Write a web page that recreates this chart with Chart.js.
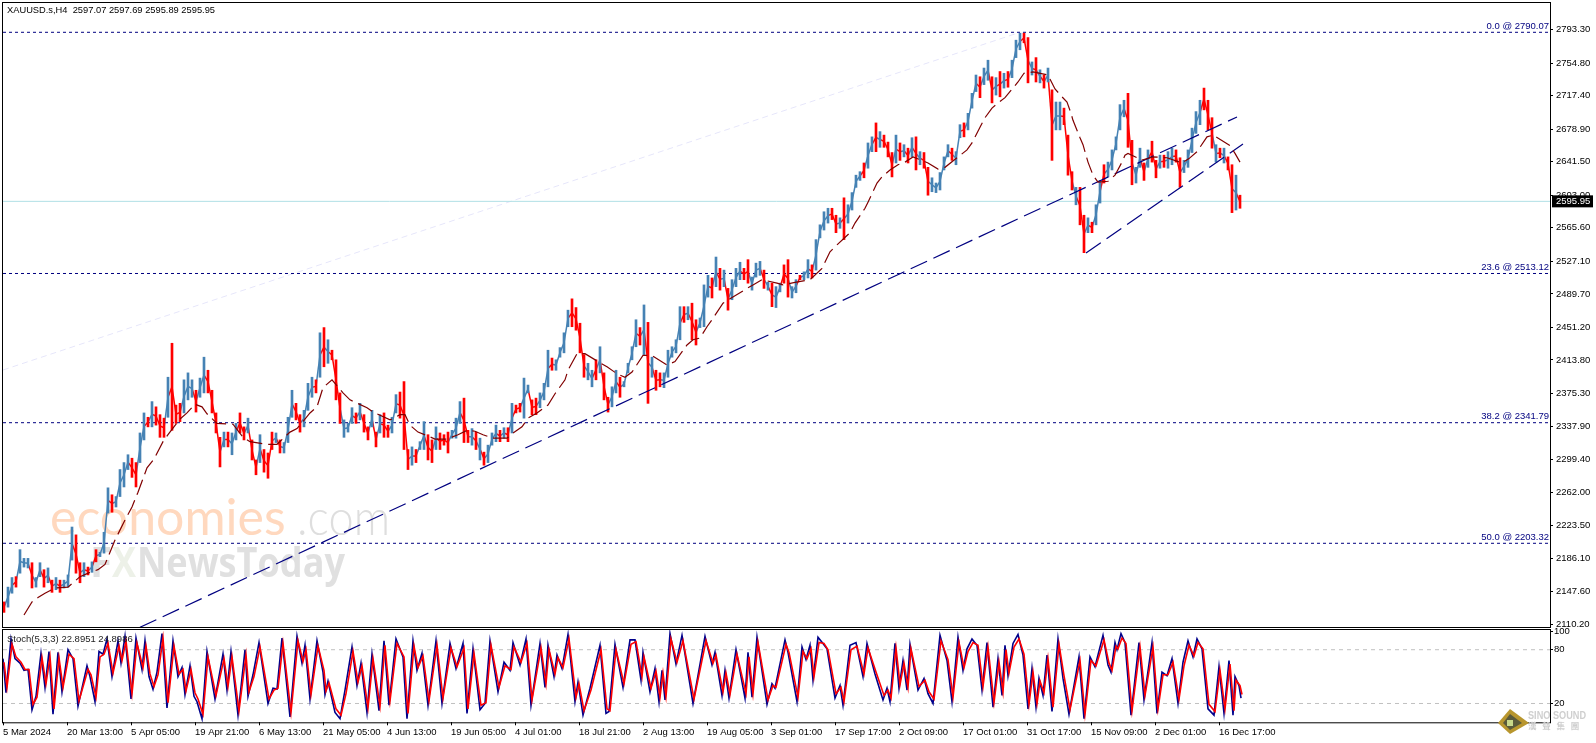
<!DOCTYPE html>
<html>
<head>
<meta charset="utf-8">
<title>XAUUSD.s,H4</title>
<script src="https://cdn.jsdelivr.net/npm/chart.js@4/dist/chart.umd.min.js"></script>
<style>
  html, body { margin: 0; padding: 0; background: #fff; overflow: hidden; }
  #page { position: relative; width: 1596px; height: 743px; }
  canvas { position: absolute; left: 0; }
  #priceChart { top: 0; }
  #stochChart { top: 628px; }
</style>
</head>
<body>
<div id="page">
  <canvas id="priceChart" width="1596" height="629"></canvas>
  <canvas id="stochChart" width="1596" height="115"></canvas>
</div>
<script>
// one candle is kept for every 4 bars on the chart
const highs = [
  2136,2153,2164,2165,2196,2186,2186,2181,2164,2181,2173,2175,2161,2164,2161,2161,2167,2222,2213,2181,
  2181,2176,2182,2196,2193,2216,2267,2259,2257,2288,2296,2305,2301,2296,2330,2353,2348,2366,2360,2351,
  2347,2394,2433,2362,2364,2391,2399,2391,2379,2393,2417,2402,2379,2353,2325,2331,2331,2330,2341,2353,
  2337,2347,2322,2299,2328,2311,2307,2331,2330,2322,2319,2348,2379,2364,2351,2356,2387,2394,2391,2445,
  2451,2437,2425,2414,2376,2345,2341,2359,2353,2364,2351,2337,2356,2331,2351,2353,2339,2348,2374,2377,
  2389,2311,2314,2311,2320,2343,2328,2322,2337,2330,2328,2331,2333,2347,2366,2370,2333,2335,2331,2324,
  2308,2316,2330,2339,2333,2336,2336,2364,2362,2364,2393,2385,2368,2370,2376,2387,2425,2416,2414,2428,
  2445,2471,2484,2474,2456,2420,2410,2402,2414,2429,2399,2371,2383,2402,2394,2389,2410,2429,2460,2451,
  2477,2457,2417,2402,2399,2399,2425,2429,2437,2475,2475,2475,2479,2460,2462,2500,2511,2508,2532,2519,
  2517,2496,2506,2519,2526,2519,2529,2509,2525,2527,2517,2503,2502,2498,2502,2523,2529,2498,2506,2511,
  2515,2529,2523,2552,2569,2584,2588,2588,2580,2577,2600,2592,2606,2626,2630,2640,2663,2670,2686,2676,
  2672,2664,2652,2672,2663,2661,2657,2669,2670,2653,2652,2635,2623,2617,2629,2647,2661,2657,2653,2684,
  2686,2697,2720,2741,2739,2749,2758,2739,2738,2745,2743,2745,2758,2781,2789,2789,2784,2756,2761,2747,
  2741,2749,2724,2710,2710,2703,2672,2630,2612,2612,2580,2577,2572,2592,2620,2638,2641,2655,2670,2707,
  2712,2720,2666,2635,2657,2640,2655,2665,2643,2649,2649,2653,2657,2655,2646,2643,2655,2680,2699,2712,
  2726,2712,2692,2661,2657,2657,2647,2638,2626,2603
];
const lows = [
  2124,2130,2146,2153,2169,2176,2175,2152,2153,2165,2153,2158,2147,2150,2147,2152,2153,2184,2169,2158,
  2165,2167,2170,2182,2188,2192,2238,2239,2245,2257,2268,2288,2279,2268,2296,2322,2337,2337,2339,2325,
  2325,2348,2333,2341,2343,2353,2368,2371,2354,2371,2376,2376,2353,2330,2291,2314,2314,2305,2322,2330,
  2322,2330,2299,2282,2296,2285,2278,2311,2319,2307,2307,2319,2348,2345,2331,2337,2356,2371,2376,2394,
  2406,2410,2414,2368,2341,2325,2331,2341,2341,2345,2331,2322,2337,2314,2330,2325,2325,2330,2353,2347,
  2311,2288,2293,2296,2311,2311,2299,2296,2311,2311,2316,2307,2324,2324,2341,2319,2319,2316,2311,2299,
  2293,2296,2316,2320,2320,2324,2320,2330,2353,2354,2347,2376,2351,2351,2359,2368,2383,2402,2402,2417,
  2422,2452,2452,2448,2422,2394,2391,2383,2391,2399,2368,2354,2360,2376,2371,2383,2399,2414,2429,2431,
  2420,2364,2394,2379,2383,2382,2394,2417,2422,2437,2457,2460,2437,2431,2451,2452,2486,2485,2498,2494,
  2498,2471,2483,2498,2506,2506,2502,2494,2509,2511,2496,2494,2475,2474,2492,2502,2486,2485,2491,2506,
  2506,2508,2508,2517,2554,2563,2571,2575,2560,2565,2552,2571,2586,2612,2620,2623,2634,2653,2653,2658,
  2658,2647,2624,2640,2643,2647,2640,2647,2632,2638,2634,2603,2607,2606,2609,2632,2647,2643,2638,2669,
  2670,2678,2703,2722,2715,2730,2735,2709,2718,2716,2726,2727,2738,2761,2770,2778,2732,2741,2733,2732,
  2726,2733,2643,2678,2678,2684,2626,2609,2592,2569,2537,2560,2560,2569,2594,2617,2624,2632,2655,2678,
  2693,2658,2615,2617,2635,2620,2635,2641,2623,2634,2635,2634,2638,2641,2612,2629,2635,2652,2674,2684,
  2701,2678,2657,2641,2646,2640,2632,2583,2586,2588
];
const bullish = [
  0,1,1,0,1,1,1,0,1,1,0,1,0,1,0,1,1,1,0,0,
  1,0,1,0,1,1,1,0,1,1,1,1,0,0,1,1,0,1,0,0,
  0,1,0,0,0,1,1,1,0,1,1,0,0,0,0,1,0,1,1,0,
  0,1,0,0,1,0,0,0,1,0,1,1,1,0,0,1,1,1,0,1,
  0,1,0,0,0,1,1,1,0,1,0,0,1,0,1,0,0,1,1,0,
  0,0,1,0,1,1,0,0,1,0,0,0,1,1,1,0,0,1,0,1,
  0,1,1,1,0,1,0,1,0,0,1,1,0,0,1,1,1,0,1,1,
  1,1,0,0,0,0,1,1,0,1,0,0,1,1,0,1,1,1,1,0,
  1,0,1,0,0,1,1,1,1,1,0,1,0,0,1,1,1,0,1,0,
  1,0,1,1,1,0,0,1,1,1,0,1,0,1,1,0,0,1,1,0,
  1,1,0,1,1,1,1,0,0,1,0,1,1,1,1,0,1,1,0,1,
  0,0,0,1,0,1,0,1,0,1,0,0,1,1,1,1,1,0,1,1,
  0,1,1,1,0,1,1,0,1,0,1,0,1,1,1,0,0,1,0,1,
  0,1,0,1,1,0,0,0,1,0,0,1,0,1,1,0,1,1,1,1,
  1,0,0,1,1,0,1,0,0,1,0,1,1,0,0,1,1,1,1,1,
  0,0,0,1,0,1,0,0,1,0
];

// moving average, read where it bends
const maBars = [24,32,38,45,55,68,80,90,98,105,115,125,132,138,147,154,163,168,180,187,195,202,207,217,233,243,250,267,277,290,297,310,317,323,332,343,350,367,373,390,400,405,410,418,427,435,447,458,467,475,483,493,507,513,522,528,537,548,555,565,568,577,585,598,607,617,625,632,643,652,667,675,687,693,700,707,712,723,730,747,753,762,777,783,795,810,822,830,837,850,855,865,868,877,882,890,898,905,913,928,938,945,957,967,972,980,985,992,998,1005,1018,1024,1033,1048,1055,1062,1067,1071,1073,1080,1083,1088,1093,1098,1108,1115,1122,1125,1128,1137,1143,1153,1167,1182,1189,1197,1207,1213,1230,1235,1240];
const maValues = [2121,2136,2141,2146,2152,2153,2165,2170,2173,2179,2207,2230,2245,2262,2290,2300,2320,2328,2346,2353,2363,2360,2352,2341,2340,2325,2320,2317,2317,2331,2335,2353,2360,2382,2391,2376,2368,2359,2354,2345,2351,2351,2339,2331,2327,2323,2323,2328,2333,2332,2328,2324,2324,2330,2337,2347,2353,2362,2375,2391,2402,2421,2421,2412,2406,2398,2394,2400,2419,2419,2408,2412,2431,2437,2439,2452,2460,2479,2484,2496,2500,2506,2502,2500,2503,2506,2519,2538,2546,2560,2571,2588,2595,2617,2624,2632,2638,2641,2647,2640,2633,2635,2646,2655,2663,2681,2692,2703,2709,2715,2733,2743,2744.5,2741,2725,2716,2710,2697,2689,2669,2661,2641,2626,2618,2619,2626,2641,2649,2651,2646,2643.5,2647,2646,2640,2645,2653,2670,2672,2660,2651,2641];

const trendMainBars = [140, 1237];
const trendMainPrices = [2106.9, 2692.8];
const trendLowerBars = [1086, 1243];
const trendLowerPrices = [2536.7, 2661.8];
const fibBaseBars = [3, 1020];
const fibBasePrices = [2402.3, 2790.07];

const fibLevels = [2790.07, 2513.12, 2341.79, 2203.32];
const fibLabels = ['0.0 @ 2790.07', '23.6 @ 2513.12', '38.2 @ 2341.79', '50.0 @ 2203.32'];
const lastPrice = 2595.95;

const priceTicks = [2793.30,2754.80,2717.40,2678.90,2641.50,2603.00,2565.60,2527.10,2489.70,2451.20,2413.80,2375.30,2337.90,2299.40,2262.00,2223.50,2186.10,2147.60,2110.20];

const stochBars = [
  3,6,11,15,20,24,28,32,36,41,45,49,53,58,62,68,73,78,87,90,
  95,99,103,107,112,118,121,125,131,136,142,145,149,153,157,162,167,173,178,182,
  185,190,194,197,202,207,215,223,227,231,238,245,248,253,259,268,273,277,282,290,
  297,302,305,310,317,323,325,328,335,340,345,352,357,361,367,372,379,384,389,396,
  403,407,413,417,422,428,436,442,450,456,463,467,473,480,485,490,498,504,510,513,
  520,526,531,540,545,548,554,557,562,568,575,578,583,590,600,606,609,615,623,630,
  635,641,643,650,655,659,662,665,670,676,682,693,705,712,715,722,725,729,736,745,
  748,752,757,767,772,775,785,788,797,802,806,810,813,818,823,827,835,840,843,850,
  856,863,867,875,883,887,890,895,899,903,907,910,918,924,928,933,940,947,952,958,
  963,967,972,977,982,987,993,998,1002,1005,1008,1013,1018,1023,1028,1032,1036,1039,1043,1047,
  1052,1058,1063,1069,1079,1084,1090,1095,1103,1108,1111,1115,1117,1121,1125,1131,1139,1144,1152,1157,
  1162,1167,1172,1178,1183,1188,1193,1197,1202,1208,1214,1219,1224,1229,1233,1235,1239,1241
];
const stochMain = [
  70,32,92,70,65,57,58,13,28,76,38,78,8,77,33,80,70,17,62,50,
  22,78,75,92,50,90,65,95,25,93,58,90,50,36,55,98,15,90,50,60,
  30,62,28,22,3,78,25,75,35,78,7,80,28,52,88,20,37,36,93,5,
  95,65,85,25,90,55,30,45,10,3,35,83,40,65,10,75,12,90,18,92,
  72,3,90,57,76,18,90,20,87,59,87,9,81,13,20,90,33,66,57,88,
  63,92,18,87,38,85,50,74,59,97,22,44,7,37,85,9,11,86,38,91,
  91,46,77,33,59,22,57,24,98,64,96,20,95,63,77,29,57,26,80,26,
  77,27,94,19,42,37,91,77,22,83,69,85,46,94,87,81,26,40,18,85,
  88,50,87,53,24,37,22,87,37,68,35,86,35,48,31,20,96,68,22,94,
  57,81,92,85,35,88,16,70,29,85,51,87,97,74,14,59,16,48,29,74,
  11,92,48,8,72,3,72,61,96,63,55,88,80,98,88,7,88,24,88,9,
  55,51,70,20,66,90,72,92,81,14,7,61,9,68,7,50,40,26
];
const stochSignal = [
  66,38,86,72,66,58,58,19,27,71,42,72,14,71,38,75,70,23,58,52,
  27,72,75,87,54,84,68,90,31,87,60,84,53,39,52,93,21,84,53,58,
  34,58,32,25,8,72,29,70,39,72,12,74,33,50,83,25,35,37,87,10,
  90,67,80,30,84,57,34,43,14,7,31,78,44,62,15,70,17,85,23,87,
  72,9,84,60,73,23,85,26,82,61,82,14,76,18,21,85,38,62,58,83,
  66,87,24,82,42,80,53,71,60,92,27,42,12,35,80,14,12,80,42,86,
  89,50,72,37,56,27,54,28,92,66,90,25,90,65,74,33,54,30,75,31,
  72,31,88,24,40,38,86,77,27,78,70,81,50,88,87,80,31,38,22,80,
  84,53,82,55,29,35,26,82,41,65,38,81,39,46,33,25,90,69,27,88,
  60,78,88,85,39,83,21,66,33,80,54,83,92,75,19,55,20,45,32,70,
  16,86,51,13,68,8,68,62,91,65,57,84,81,93,87,12,83,29,83,14,
  52,52,66,25,62,85,73,88,81,19,11,57,14,64,12,46,40,30
];
const stochLevels = [80, 20];
const stochTicks = [100, 80, 20];

const timeTicks = [3,67,131,195,259,323,387,451,515,579,643,707,771,835,899,963,1027,1091,1155,1219];
const timeLabels = ['5 Mar 2024','20 Mar 13:00','5 Apr 05:00','19 Apr 21:00','6 May 13:00','21 May 05:00','4 Jun 13:00','19 Jun 05:00','4 Jul 01:00','18 Jul 21:00','2 Aug 13:00','19 Aug 05:00','3 Sep 01:00','17 Sep 17:00','2 Oct 09:00','17 Oct 01:00','31 Oct 17:00','15 Nov 09:00','2 Dec 01:00','16 Dec 17:00'];

const headerText = 'XAUUSD.s,H4  2597.07 2597.69 2595.89 2595.95';
const stochText = 'Stoch(5,3,3) 22.8951 24.8986';

const FONT = '"Liberation Sans", Arial, sans-serif';
const TEXT_PX = 9.5;
const BLUE = '#4682B4';
const RED = '#FF0000';
const NAVY = '#000080';
const FIRST_BAR = 3, LAST_BAR = 1550;

Chart.defaults.font.family = FONT;
Chart.defaults.font.size = TEXT_PX;
Chart.defaults.color = '#000';
Chart.defaults.animation = false;
Chart.defaults.devicePixelRatio = 1;

function lineOf(bars, values, color, extra) {
  return Object.assign({
    type: 'line',
    data: bars.map((b, i) => ({ x: b, y: values[i] })),
    borderColor: color,
    borderWidth: 1,
    pointRadius: 0,
    tension: 0,
    fill: false
  }, extra);
}

function levelLine(value, color, extra) {
  return lineOf([FIRST_BAR, LAST_BAR], [value, value], color, extra);
}

function paneFrame(chart) {
  const { ctx, chartArea: a } = chart;
  ctx.save();
  ctx.strokeStyle = '#000';
  ctx.lineWidth = 1;
  ctx.strokeRect(a.left - 0.5, a.top - 0.5, a.right - a.left + 1, a.bottom - a.top + 1);
  ctx.restore();
}

// watermarks sit under the candles
const watermarkPlugin = {
  id: 'watermark',
  beforeDatasetsDraw(chart) {
    const ctx = chart.ctx;
    ctx.save();
    ctx.textBaseline = 'alphabetic';
    ctx.textAlign = 'left';
    ctx.font = '400 50px Lato, "Open Sans", sans-serif';
    ctx.fillStyle = '#FFD8BE';
    ctx.fillText('economies', 50, 535, 243);
    ctx.font = '300 50px Lato, "Open Sans", sans-serif';
    ctx.fillStyle = '#DEDEDE';
    ctx.fillText('.com', 297, 535, 93);
    ctx.font = 'bold 42px "Open Sans", sans-serif';
    ctx.fillStyle = '#E0E0E0';
    ctx.fillText('F', 90, 577, 22);
    ctx.fillStyle = '#EDF1E8';
    ctx.fillText('X', 112, 577, 24);
    ctx.fillStyle = '#E0E0E0';
    ctx.fillText('NewsToday', 137, 577, 208);
    ctx.restore();
  }
};

const priceOverlay = {
  id: 'priceOverlay',
  afterDraw(chart) {
    const ctx = chart.ctx;
    const y = chart.scales.y;
    paneFrame(chart);
    ctx.save();
    ctx.font = TEXT_PX + 'px ' + FONT;
    ctx.textBaseline = 'middle';
    ctx.fillStyle = '#000';
    ctx.textAlign = 'left';
    ctx.fillText(headerText, 7, 10.5, 208);
    ctx.fillStyle = NAVY;
    ctx.textAlign = 'right';
    fibLevels.forEach((level, i) => {
      ctx.fillText(fibLabels[i], 1549, y.getPixelForValue(level) - 6);
    });
    const tagY = y.getPixelForValue(lastPrice);
    ctx.fillStyle = '#000';
    ctx.fillRect(1552, tagY - 6, 41, 12);
    ctx.fillStyle = '#fff';
    ctx.textAlign = 'left';
    ctx.fillText(lastPrice.toFixed(2), 1556, tagY + 0.5);
    ctx.restore();
  }
};

const stochOverlay = {
  id: 'stochOverlay',
  afterDraw(chart) {
    const ctx = chart.ctx;
    paneFrame(chart);
    ctx.save();
    ctx.font = TEXT_PX + 'px ' + FONT;
    ctx.textBaseline = 'middle';
    ctx.fillStyle = '#222';
    ctx.fillText(stochText, 7, 11);
    // sino sound mark, bottom right
    ctx.translate(0, -628);
    ctx.fillStyle = '#B8962E';
    ctx.beginPath();
    ctx.moveTo(1510, 709); ctx.lineTo(1529, 723); ctx.lineTo(1510, 734); ctx.lineTo(1498, 723);
    ctx.closePath();
    ctx.fill();
    ctx.fillStyle = '#5A5A3A';
    ctx.beginPath();
    ctx.moveTo(1510, 714); ctx.lineTo(1522, 723); ctx.lineTo(1510, 730); ctx.lineTo(1503, 723);
    ctx.closePath();
    ctx.fill();
    ctx.fillStyle = '#C8D88A';
    ctx.fillRect(1507, 720, 6, 6);
    ctx.fillStyle = '#CFCFCF';
    ctx.font = 'bold 11px ' + FONT;
    ctx.fillText('SINO SOUND', 1528, 716, 58);
    ctx.font = 'bold 8.5px "Noto Sans CJK TC", sans-serif';
    ctx.fillText('漢   聲   集   團', 1528, 726, 58);
    ctx.restore();
  }
};

const priceDatasets = [
  lineOf(trendLowerBars, trendLowerPrices, NAVY, { borderWidth: 1.2, borderDash: [18, 7], order: 2 }),
  lineOf(trendMainBars, trendMainPrices, NAVY, { borderWidth: 1.2, borderDash: [18, 7], order: 2 }),
  lineOf(maBars, maValues, '#800000', { borderWidth: 1.2, borderDash: [16, 6], order: 1 }),
  {
    type: 'bar',
    data: highs.map((h, i) => ({ x: 4 + i * 4, y: [lows[i], h] })),
    backgroundColor: bullish.map(b => (b ? BLUE : RED)),
    barThickness: 2,
    order: 3
  },
  // joins neighbouring candles the way the dense bars do in the chart
  lineOf(highs.map((h, i) => 4 + i * 4), highs.map((h, i) => (h + lows[i]) / 2), BLUE, {
    borderWidth: 1.5,
    order: 3.5,
    segment: { borderColor: c => (bullish[c.p1DataIndex] ? BLUE : RED) }
  }),
  lineOf(fibBaseBars, fibBasePrices, '#E6E6FA', { borderDash: [6, 4], order: 6 }),
  levelLine(lastPrice, '#B0E0E6', { order: 5 })
];
fibLevels.forEach(level => {
  priceDatasets.push(levelLine(level, NAVY, { borderDash: [3, 3], order: 4 }));
});

new Chart(document.getElementById('priceChart'), {
  data: { datasets: priceDatasets },
  plugins: [watermarkPlugin, priceOverlay],
  options: {
    responsive: false,
    layout: { padding: { left: 3, top: 3, right: 0, bottom: 2 } },
    plugins: { legend: { display: false }, tooltip: { enabled: false } },
    scales: {
      x: { type: 'linear', display: false, min: FIRST_BAR, max: LAST_BAR, offset: false },
      y: {
        position: 'right',
        min: 2107.2,
        max: 2823.7,
        grid: { drawOnChartArea: false, tickLength: 3, tickColor: '#000' },
        border: { display: false },
        ticks: { padding: 3, autoSkip: false, callback: v => v.toFixed(2) },
        afterBuildTicks: s => { s.ticks = priceTicks.map(v => ({ value: v })); },
        afterFit: s => { s.width = 46; s.paddingTop = 0; s.paddingBottom = 0; }
      }
    }
  }
});

const stochDatasets = [
  lineOf(stochBars.map(b => b + 1), stochSignal, RED, { borderWidth: 1.6, order: 1 }),
  lineOf(stochBars, stochMain, '#00008B', { borderWidth: 1.6, order: 2 })
];
stochLevels.forEach(level => {
  stochDatasets.push(levelLine(level, '#C0C0C0', { borderDash: [4, 4], order: 3 }));
});

new Chart(document.getElementById('stochChart'), {
  data: { datasets: stochDatasets },
  plugins: [stochOverlay],
  options: {
    responsive: false,
    layout: { padding: { left: 3, top: 2, right: 0, bottom: 0 } },
    plugins: { legend: { display: false }, tooltip: { enabled: false } },
    scales: {
      x: {
        type: 'linear',
        min: FIRST_BAR,
        max: LAST_BAR,
        grid: { drawOnChartArea: false, tickLength: 3, tickColor: '#000' },
        border: { display: false },
        ticks: {
          align: 'start',
          padding: 1,
          maxRotation: 0,
          autoSkip: false,
          callback: (v, i) => timeLabels[i]
        },
        afterBuildTicks: s => { s.ticks = timeTicks.map(v => ({ value: v })); },
        afterFit: s => { s.height = 20.7; s.paddingLeft = 0; s.paddingRight = 0; }
      },
      y: {
        position: 'right',
        min: -1,
        max: 102,
        grid: { drawOnChartArea: false, tickLength: 3, tickColor: '#000' },
        border: { display: false },
        ticks: { padding: 1, autoSkip: false },
        afterBuildTicks: s => { s.ticks = stochTicks.map(v => ({ value: v })); },
        afterFit: s => { s.width = 46; s.paddingTop = 0; s.paddingBottom = 0; }
      }
    }
  }
});
</script>
</body>
</html>
